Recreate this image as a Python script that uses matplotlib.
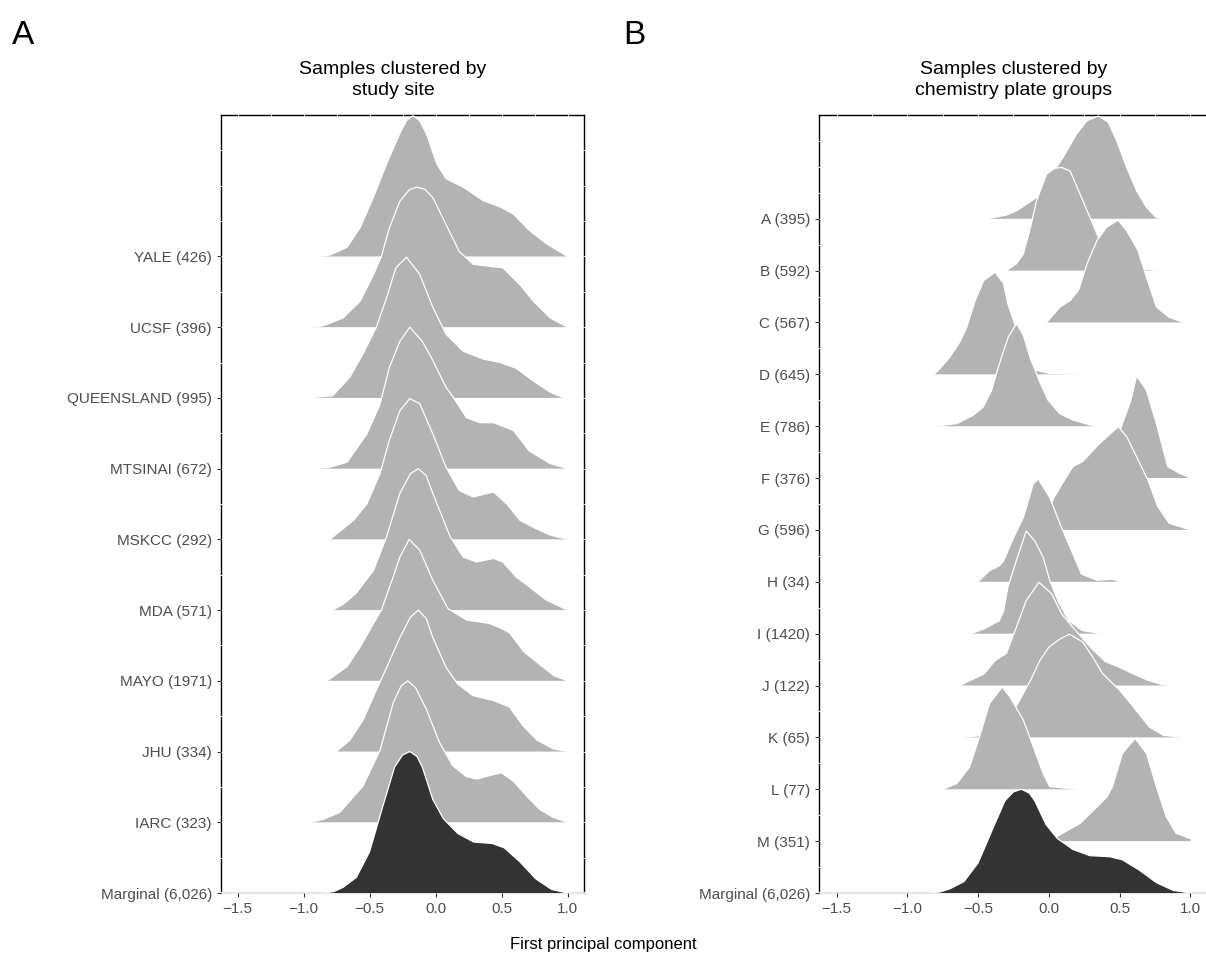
import matplotlib
matplotlib.use("Agg")
import matplotlib.pyplot as plt
import numpy as np

plt.rcParams['font.family'] = ['Liberation Sans', 'DejaVu Sans']

# ---- data: ridge heights (in row units), as (x, height) ----
marginal = [(-0.85, 0), (-0.77, 0.02), (-0.7, 0.08), (-0.6, 0.22), (-0.5, 0.58), (-0.4, 1.22),
            (-0.31, 1.78), (-0.25, 1.95), (-0.195, 2.0), (-0.14, 1.93), (-0.1, 1.78), (-0.02, 1.32),
            (0.06, 1.05), (0.17, 0.84), (0.29, 0.72), (0.43, 0.7), (0.52, 0.64), (0.64, 0.44),
            (0.76, 0.2), (0.88, 0.05), (1.0, 0)]

# panel A: study sites
site_names = ['IARC', 'JHU', 'MAYO', 'MDA', 'MSKCC', 'MTSINAI', 'QUEENSLAND', 'UCSF', 'YALE']
site_counts = [323, 334, 1971, 571, 292, 672, 995, 396, 426]

iarc = [(-0.95, 0), (-0.85, 0.04), (-0.725, 0.14), (-0.55, 0.51), (-0.42, 1.02), (-0.32, 1.69),
        (-0.26, 1.93), (-0.21, 2.0), (-0.15, 1.9), (-0.07, 1.6), (0.03, 1.13), (0.13, 0.8),
        (0.23, 0.65), (0.31, 0.61), (0.41, 0.66), (0.5, 0.7), (0.59, 0.58), (0.69, 0.37),
        (0.79, 0.18), (0.89, 0.07), (1.0, 0)]
jhu = [(-0.75, 0), (-0.65, 0.16), (-0.55, 0.44), (-0.45, 0.86), (-0.37, 1.19), (-0.27, 1.61),
       (-0.19, 1.9), (-0.13, 2.0), (-0.07, 1.88), (-0.02, 1.61), (0.08, 1.19), (0.17, 0.95),
       (0.285, 0.79), (0.44, 0.72), (0.56, 0.63), (0.66, 0.37), (0.77, 0.16), (0.89, 0.04), (1.0, 0)]
mayo = [(-0.82, 0), (-0.67, 0.2), (-0.57, 0.48), (-0.47, 0.81), (-0.41, 1.0), (-0.33, 1.42),
        (-0.27, 1.75), (-0.2, 2.0), (-0.12, 1.85), (-0.02, 1.42), (0.095, 1.02), (0.235, 0.86),
        (0.41, 0.81), (0.5, 0.74), (0.56, 0.68), (0.67, 0.41), (0.81, 0.2), (0.9, 0.07), (1.0, 0)]
mda = [(-0.78, 0), (-0.7, 0.08), (-0.6, 0.24), (-0.47, 0.56), (-0.37, 1.04), (-0.27, 1.65),
       (-0.19, 1.93), (-0.13, 2.0), (-0.07, 1.9), (-0.02, 1.65), (0.11, 1.04), (0.21, 0.75),
       (0.31, 0.68), (0.44, 0.73), (0.51, 0.68), (0.61, 0.47), (0.71, 0.33), (0.84, 0.14), (1.0, 0)]
mskcc = [(-0.8, 0), (-0.62, 0.27), (-0.52, 0.5), (-0.42, 0.93), (-0.35, 1.4), (-0.27, 1.82),
         (-0.195, 1.99), (-0.12, 1.92), (-0.02, 1.49), (0.08, 1.02), (0.18, 0.69), (0.285, 0.6),
         (0.44, 0.67), (0.54, 0.5), (0.64, 0.27), (0.74, 0.17), (0.87, 0.06), (1.0, 0)]
mtsinai = [(-0.92, 0), (-0.8, 0.02), (-0.67, 0.09), (-0.52, 0.49), (-0.42, 0.91), (-0.35, 1.43),
           (-0.27, 1.8), (-0.195, 2.0), (-0.1, 1.8), (-0.04, 1.6), (0.08, 1.15), (0.13, 1.02),
           (0.235, 0.72), (0.335, 0.65), (0.44, 0.65), (0.59, 0.54), (0.71, 0.25), (0.87, 0.07), (1.0, 0)]
queensland = [(-1.05, 0), (-0.9, 0.01), (-0.78, 0.03), (-0.65, 0.29), (-0.55, 0.62), (-0.45, 0.99),
              (-0.37, 1.42), (-0.3, 1.84), (-0.22, 1.99), (-0.12, 1.75), (-0.02, 1.28), (0.08, 0.9),
              (0.21, 0.66), (0.36, 0.55), (0.49, 0.5), (0.61, 0.42), (0.74, 0.24), (0.87, 0.08), (0.97, 0)]
ucsf = [(-0.95, 0), (-0.85, 0.02), (-0.7, 0.13), (-0.57, 0.37), (-0.47, 0.74), (-0.41, 1.0),
        (-0.35, 1.4), (-0.27, 1.78), (-0.2, 1.94), (-0.145, 1.98), (-0.08, 1.95), (-0.02, 1.83),
        (0.08, 1.45), (0.18, 1.07), (0.285, 0.89), (0.41, 0.86), (0.51, 0.84), (0.64, 0.6),
        (0.74, 0.37), (0.87, 0.13), (1.0, 0)]
yale = [(-0.87, 0), (-0.8, 0.02), (-0.67, 0.13), (-0.57, 0.41), (-0.47, 0.84), (-0.37, 1.31),
        (-0.27, 1.74), (-0.22, 1.92), (-0.17, 1.99), (-0.12, 1.92), (-0.07, 1.74), (0.01, 1.31),
        (0.08, 1.1), (0.21, 0.98), (0.36, 0.79), (0.49, 0.7), (0.59, 0.6), (0.71, 0.37),
        (0.84, 0.18), (1.0, 0)]
site_curves = [iarc, jhu, mayo, mda, mskcc, mtsinai, queensland, ucsf, yale]

# panel B: chemistry plate groups
plate_names = ['M', 'L', 'K', 'J', 'I', 'H', 'G', 'F', 'E', 'D', 'C', 'B', 'A']
plate_counts = [351, 77, 65, 122, 1420, 34, 596, 376, 786, 645, 567, 592, 395]

plate_a = [(-0.44, 0), (-0.3, 0.07), (-0.23, 0.15), (-0.087, 0.41), (0.007, 0.8), (0.1, 1.18),
           (0.195, 1.63), (0.27, 1.89), (0.35, 1.98), (0.42, 1.86), (0.48, 1.5), (0.55, 0.99),
           (0.62, 0.54), (0.69, 0.22), (0.76, 0.02), (0.8, 0)]
plate_b = [(-0.3, 0), (-0.23, 0.13), (-0.18, 0.32), (-0.13, 0.83), (-0.087, 1.35), (-0.016, 1.86),
           (0.04, 1.97), (0.09, 1.99), (0.15, 1.92), (0.22, 1.48), (0.29, 1.03), (0.35, 0.64),
           (0.42, 0.35), (0.5, 0.15), (0.6, 0.05), (0.75, 0.01), (0.8, 0)]
plate_c = [(-0.016, 0), (0.08, 0.3), (0.15, 0.42), (0.21, 0.62), (0.27, 1.13), (0.34, 1.58),
           (0.41, 1.84), (0.49, 1.97), (0.55, 1.77), (0.63, 1.39), (0.69, 0.87), (0.76, 0.3),
           (0.85, 0.1), (0.95, 0)]
plate_d = [(-0.81, 0), (-0.77, 0.11), (-0.7, 0.33), (-0.63, 0.62), (-0.58, 0.91), (-0.52, 1.43),
           (-0.46, 1.81), (-0.38, 1.97), (-0.32, 1.75), (-0.29, 1.36), (-0.25, 1.04), (-0.2, 0.6),
           (-0.15, 0.3), (-0.09, 0.08), (0.0, 0.02), (0.25, 0)]
plate_e = [(-0.8, 0), (-0.65, 0.05), (-0.535, 0.21), (-0.464, 0.37), (-0.405, 0.69), (-0.37, 1.02),
           (-0.334, 1.34), (-0.287, 1.72), (-0.228, 1.98), (-0.18, 1.75), (-0.13, 1.3), (-0.064, 0.85),
           (-0.005, 0.5), (0.078, 0.24), (0.17, 0.12), (0.22, 0.08), (0.31, 0.01), (0.35, 0)]
plate_f = [(0.2, 0), (0.3, 0.05), (0.4, 0.3), (0.5, 0.9), (0.58, 1.5), (0.62, 1.97), (0.69, 1.69),
           (0.76, 1.05), (0.84, 0.22), (0.925, 0.09), (1.0, 0)]
plate_g = [(-0.25, 0), (-0.2, 0.04), (-0.1, 0.15), (0.0, 0.42), (0.04, 0.64), (0.11, 0.96),
           (0.17, 1.22), (0.24, 1.32), (0.36, 1.67), (0.49, 1.99), (0.55, 1.8), (0.62, 1.41),
           (0.7, 0.96), (0.77, 0.45), (0.85, 0.13), (1.0, 0)]
plate_h = [(-0.5, 0), (-0.49, 0.03), (-0.42, 0.21), (-0.35, 0.31), (-0.32, 0.4), (-0.25, 0.85),
           (-0.18, 1.24), (-0.11, 1.89), (-0.075, 1.98), (0.007, 1.62), (0.08, 1.11), (0.16, 0.6),
           (0.23, 0.15), (0.34, 0.03), (0.45, 0.05), (0.5, 0)]
plate_i = [(-0.55, 0), (-0.46, 0.09), (-0.35, 0.25), (-0.32, 0.44), (-0.29, 0.89), (-0.23, 1.41),
           (-0.16, 1.98), (-0.1, 1.79), (-0.04, 1.47), (0.007, 1.02), (0.07, 0.6), (0.14, 0.25),
           (0.235, 0.06), (0.35, 0.01), (0.5, 0)]
plate_j = [(-0.63, 0), (-0.46, 0.22), (-0.38, 0.48), (-0.3, 0.62), (-0.23, 1.12), (-0.16, 1.64),
           (-0.07, 1.99), (0.02, 1.77), (0.09, 1.38), (0.17, 1.12), (0.3, 0.72), (0.4, 0.46),
           (0.5, 0.35), (0.6, 0.22), (0.7, 0.1), (0.8, 0.02), (0.85, 0)]
plate_k = [(-0.62, 0), (-0.5, 0.03), (-0.4, 0.1), (-0.3, 0.3), (-0.22, 0.65), (-0.13, 1.1),
           (-0.064, 1.48), (0.0, 1.74), (0.08, 1.9), (0.145, 1.99), (0.24, 1.84), (0.31, 1.55),
           (0.38, 1.23), (0.5, 0.91), (0.6, 0.58), (0.71, 0.2), (0.81, 0.04), (0.95, 0)]
plate_l = [(-0.75, 0), (-0.65, 0.11), (-0.56, 0.43), (-0.49, 1.01), (-0.42, 1.65), (-0.33, 1.97),
           (-0.275, 1.78), (-0.18, 1.33), (-0.11, 0.82), (-0.04, 0.3), (0.007, 0.05), (0.17, 0.01), (0.2, 0)]
plate_m = [(-0.1, 0), (0.05, 0.08), (0.22, 0.34), (0.34, 0.66), (0.41, 0.85), (0.45, 1.05),
           (0.52, 1.69), (0.61, 1.98), (0.69, 1.69), (0.76, 1.05), (0.83, 0.47), (0.9, 0.15), (1.0, 0.05)]
plate_curves = [plate_m, plate_l, plate_k, plate_j, plate_i, plate_h, plate_g,
                plate_f, plate_e, plate_d, plate_c, plate_b, plate_a]

xticks = [-1.5, -1.0, -0.5, 0.0, 0.5, 1.0]


def ridges(ax, names, counts, curves, top):
    labels = ['Marginal (6,026)'] + ['%s (%d)' % (nm, c) for nm, c in zip(names, counts)]
    allc = [marginal] + curves
    n = len(allc)
    # top rows first so lower rows sit on top of them
    for k, i in enumerate(range(n - 1, -1, -1)):
        pts = np.array(allc[i], dtype=float)
        xs, hs = pts[:, 0], pts[:, 1]
        col = '#333333' if i == 0 else '#b3b3b3'
        z = 2 + 2 * k
        ax.fill_between(xs, i, i + hs, facecolor=col, edgecolor='none', lw=0, zorder=z)
        ax.plot(xs, i + hs, color='white', lw=0.9, zorder=z + 1, solid_capstyle='butt')

    ax.set_xlim(-1.625, 1.125)
    ax.set_ylim(0, top)
    ax.set_yticks(range(n))
    ax.set_yticklabels(labels)
    ax.set_xticks(xticks)
    ax.set_xticklabels(['%.1f' % v if v >= 0 else '\u2212%.1f' % -v for v in xticks])
    ax.tick_params(length=3, width=0.8, color='#333333', labelcolor='#4d4d4d', labelsize=11, pad=3.5)

    for name, sp in ax.spines.items():
        sp.set_zorder(0.5)
        sp.set_linewidth(1.0)
        sp.set_color('black')
    ax.spines['bottom'].set_color('#e6e6e6')
    ax.spines['bottom'].set_linewidth(1.6)

    # white grid crossing the panel border, hidden under the ridges
    for xv in np.arange(-1.5, 1.01, 0.25):
        ax.axvline(xv, ymin=0.004, ymax=1.004, color='white', lw=0.6, zorder=1, clip_on=False)
    for yv in np.arange(0.5, top - 0.01, 0.5):
        ax.axhline(yv, xmin=-0.004, xmax=1.004, color='white', lw=0.6, zorder=1, clip_on=False)


fig = plt.figure(figsize=(12.06, 9.6), dpi=100)
W, H = 1206.0, 960.0
axA = fig.add_axes([221 / W, 67 / H, 363 / W, 778 / H])
axB = fig.add_axes([819 / W, 67 / H, 389 / W, 778 / H])

ridges(axA, site_names, site_counts, site_curves, 11)
ridges(axB, plate_names, plate_counts, plate_curves, 15)

fig.text(12 / W, 1 - 35 / H, 'A', fontsize=24, ha='left', va='center')
fig.text(623 / W, 1 - 35 / H, 'B', fontsize=24, ha='left', va='center')
fig.text(393 / W, 1 - 80 / H, 'Samples clustered by\nstudy site', fontsize=14,
         ha='center', va='center', linespacing=1.3)
fig.text(1013.5 / W, 1 - 80 / H, 'Samples clustered by\nchemistry plate groups', fontsize=14,
         ha='center', va='center', linespacing=1.3)
fig.text(603 / W, 1 - 945 / H, 'First principal component', fontsize=12, ha='center', va='center')

fig.savefig('out.png', dpi=100)
